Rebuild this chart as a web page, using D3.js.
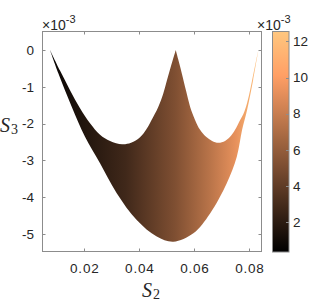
<!DOCTYPE html>
<html>
<head>
<meta charset="utf-8">
<script src="https://cdn.jsdelivr.net/npm/d3@7"></script>
<style>
  body { margin: 0; background: #fff; }
  svg text { font-family: "Liberation Sans", Arial, sans-serif; fill: #262626; }
  .lbl { font-family: "Liberation Serif", "Times New Roman", serif; }
</style>
</head>
<body>
<svg id="chart" width="332" height="302"></svg>
<script>
const d = document;

/* Ticks */
const xTicks = [0.02, 0.04, 0.06, 0.08];
const yTicks = [0, -1, -2, -3, -4, -5]; // x 10^-3
const cTicks = [2, 4, 6, 8, 10, 12]; // x 10^-3

/* Lower boundary of the region, left tip -> right tip (S3 in 10^-3) */
const lowerS2 = [0.00753, 0.01055, 0.01542, 0.02025, 0.02571, 0.03178, 0.03905, 0.04633, 0.05236, 0.05964, 0.06571, 0.07178, 0.07542, 0.07735, 0.07916, 0.08135, 0.08327];
const lowerS3 = [0, -0.63, -1.54, -2.36, -3.08, -3.89, -4.62, -5.07, -5.21, -4.98, -4.44, -3.62, -2.9, -2.17, -1.63, -0.82, 0];

/* Upper boundary, left arc: left tip -> cusp */
const upperLeftS2 = [0.00753, 0.01116, 0.01480, 0.01844, 0.02207, 0.02571, 0.02935, 0.03371, 0.03698, 0.04025, 0.04244, 0.04425, 0.04691, 0.04862, 0.04996, 0.05153, 0.05324];
const upperLeftS3 = [0, -0.56, -1.09, -1.58, -1.99, -2.30, -2.47, -2.56, -2.52, -2.37, -2.17, -1.93, -1.54, -1.20, -0.84, -0.43, 0];

/* Upper boundary, right arc: cusp -> right tip */
const upperRightS2 = [0.05324, 0.05407, 0.05542, 0.05698, 0.05844, 0.06025, 0.06207, 0.06425, 0.06644, 0.06873, 0.07116, 0.07298, 0.07480, 0.07644, 0.07782, 0.07916, 0.08025, 0.08149, 0.08240, 0.08327];
const upperRightS3 = [0, -0.24, -0.63, -1.11, -1.54, -1.90, -2.17, -2.36, -2.47, -2.52, -2.47, -2.36, -2.17, -1.93, -1.74, -1.44, -1.09, -0.63, -0.30, 0];

/* Colour value along S2 (10^-3) */
const colourS2 = [0.00753, 0.02, 0.035, 0.053, 0.065, 0.075, 0.0833];
const colourVal = [0.6, 1.6, 2.8, 5.2, 7.3, 9.2, 12.2];

const svg = d3.select("#chart");

const x = d3.scaleLinear().domain([0.0048, 0.0844]).range([42.5, 261.5]);
const y = d3.scaleLinear().domain([-5.475, 0.503]).range([251.5, 31.5]);
const c = d3.scaleLinear().domain([0.34, 12.55]).range([252, 31.5]);

function copper(t) {
  t = Math.max(0, Math.min(1, t));
  return d3.rgb(Math.min(1, 1.25 * t) * 255, 0.7812 * t * 255, 0.4975 * t * 255).toString();
}
const cT = (v) => (v - c.domain()[0]) / (c.domain()[1] - c.domain()[0]);

const defs = svg.append("defs");

// horizontal gradient for the region
const gx0 = x(colourS2[0]), gx1 = x(colourS2[colourS2.length - 1]);
const grad = defs.append("linearGradient").attr("id", "fillGrad")
  .attr("gradientUnits", "userSpaceOnUse")
  .attr("x1", gx0).attr("x2", gx1).attr("y1", 0).attr("y2", 0);
colourS2.forEach((s, i) => {
  grad.append("stop").attr("offset", (x(s) - gx0) / (gx1 - gx0)).attr("stop-color", copper(cT(colourVal[i])));
});

// vertical gradient for the colour bar
const cbGrad = defs.append("linearGradient").attr("id", "cbGrad")
  .attr("x1", 0).attr("x2", 0).attr("y1", 1).attr("y2", 0);
d3.range(0, 1.0001, 0.1).forEach((t) => {
  cbGrad.append("stop").attr("offset", t).attr("stop-color", copper(t));
});

// region
const line = d3.line().x((p) => x(p[0])).y((p) => y(p[1])).curve(d3.curveCatmullRom.alpha(0.5));
const lowerPts = lowerS2.map((s, i) => [s, lowerS3[i]]);
const upRPts = upperRightS2.map((s, i) => [s, upperRightS3[i]]).reverse();
const upLPts = upperLeftS2.map((s, i) => [s, upperLeftS3[i]]).reverse();
const pathD = line(lowerPts) + line(upRPts).replace(/^M/, "L") + line(upLPts).replace(/^M/, "L") + "Z";

svg.append("path").attr("d", pathD).attr("fill", "url(#fillGrad)");

// axes box
const ax = svg.append("g").attr("stroke", "#8c8c8c").attr("stroke-width", 1).attr("fill", "none");
ax.append("rect").attr("x", 42.5).attr("y", 31.5).attr("width", 219).attr("height", 220);
const tl = 3;
xTicks.forEach((t) => {
  const px = Math.round(x(t)) + 0.5;
  ax.append("line").attr("x1", px).attr("x2", px).attr("y1", 251.5).attr("y2", 251.5 - tl);
  ax.append("line").attr("x1", px).attr("x2", px).attr("y1", 31.5).attr("y2", 31.5 + tl);
});
yTicks.forEach((t) => {
  const py = Math.round(y(t)) + 0.5;
  ax.append("line").attr("x1", 42.5).attr("x2", 42.5 + tl).attr("y1", py).attr("y2", py);
  ax.append("line").attr("x1", 261.5).attr("x2", 261.5 - tl).attr("y1", py).attr("y2", py);
});

// tick labels
svg.append("g").selectAll("text").data(xTicks).join("text")
  .attr("x", (t) => x(t) + 0.5).attr("y", 273).attr("text-anchor", "middle")
  .attr("font-size", 13.5).attr("letter-spacing", 0.8).text((t) => t.toFixed(2));
svg.append("g").selectAll("text").data(yTicks).join("text")
  .attr("x", 34).attr("y", (t) => y(t)).attr("dy", "0.35em").attr("text-anchor", "end")
  .attr("font-size", 13.5).text((t) => String(t));

// exponent labels
function expLabel(px, py) {
  const t = svg.append("text").attr("x", px).attr("y", py).attr("font-size", 14);
  t.append("tspan").text("\u00d710");
  t.append("tspan").attr("dy", -7).attr("font-size", 11).text("-3");
}
expLabel(42, 30);
expLabel(257, 30);

// axis labels
const s2 = svg.append("text").attr("class", "lbl").attr("x", 142).attr("y", 297).attr("font-size", 20);
s2.append("tspan").attr("font-style", "italic").text("S");
s2.append("tspan").attr("dy", 2).attr("dx", 1).attr("font-size", 14).text("2");
const s3 = svg.append("text").attr("class", "lbl").attr("x", 0).attr("y", 132).attr("font-size", 20);
s3.append("tspan").attr("font-style", "italic").text("S");
s3.append("tspan").attr("dy", 2).attr("dx", 1).attr("font-size", 14).text("3");

// colour bar
const cb = svg.append("g");
cb.append("rect").attr("x", 272).attr("y", 31.5).attr("width", 17).attr("height", 220.5).attr("fill", "url(#cbGrad)");
cb.append("rect").attr("x", 272.5).attr("y", 31.5).attr("width", 16.5).attr("height", 220.5)
  .attr("fill", "none").attr("stroke", "#8c8c8c");
cTicks.forEach((t) => {
  const py = Math.round(c(t)) + 0.5;
  cb.append("line").attr("x1", 289).attr("x2", 286).attr("y1", py).attr("y2", py).attr("stroke", "#8c8c8c");
});
cb.selectAll("text").data(cTicks).join("text")
  .attr("x", 293).attr("y", (t) => c(t)).attr("dy", "0.35em")
  .attr("font-size", 13.5).text((t) => String(t));
</script>
</body>
</html>
